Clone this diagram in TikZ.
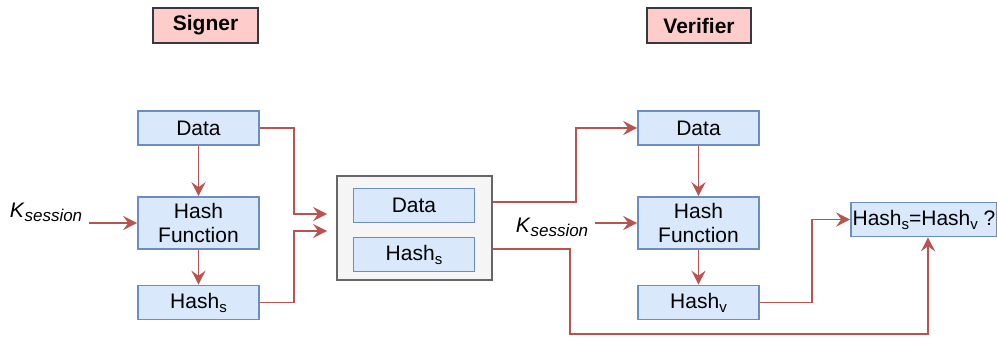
\documentclass[tikz,border=0pt]{standalone}
\usepackage{fontspec}
\setmainfont{Liberation Sans}
\usepackage{tikz}
\usetikzlibrary{arrows.meta}

\definecolor{boxfill}{HTML}{DAE8FC}
\definecolor{boxline}{HTML}{6C8EBF}
\definecolor{arrline}{HTML}{B85450}
\definecolor{tagfill}{HTML}{FFCCCC}
\definecolor{tagline}{HTML}{36393D}
\definecolor{packfill}{HTML}{F5F5F5}
\definecolor{packline}{HTML}{666666}

\newcommand{\ksess}{\textit{K}\raisebox{-2pt}{\fontsize{8.5}{10}\selectfont\itshape session}}
\newcommand{\lowsub}[1]{\raisebox{-2pt}{\fontsize{7.5}{8}\selectfont #1}}

\begin{document}
\begin{tikzpicture}[x=0.5pt,y=-0.5pt,font=\fontsize{10.5}{12}\selectfont,
    box/.style={draw=boxline,fill=boxfill,line width=0.8pt,minimum width=60.5pt,minimum height=17pt,inner sep=0pt,align=center},
    tag/.style={draw=tagline,fill=tagfill,line width=0.8pt,minimum height=17.5pt,inner sep=0pt,font=\fontsize{10.5}{12}\selectfont\bfseries},
    pack/.style={draw=packline,fill=packfill,line width=0.9pt,minimum width=77.5pt,minimum height=52pt,inner sep=0pt},
    arr/.style={draw=arrline,line width=0.8pt,-{Stealth[length=7pt,width=7pt,inset=2.5pt]}}]
      \useasboundingbox (0,0) rectangle (997,338);

      \node [tag,minimum width=52.5pt] (sig) at (205.5,25.5) {Signer};
      \node [tag,minimum width=52pt] (ver) at (699,25.5) {Verifier};

      \node [box] (d1) at (198.5,128) {Data};
      \node [box,minimum height=26pt] (h1) at (198.5,223) {Hash\\Function};
      \node [box] (s1) at (198.5,302.5) {Hash\lowsub{s}};
      \node (k1) at (46,212) {\ksess};

      \node [pack] (o) at (414.5,228) {};
      \node [box] (d2) at (414,205.5) {Data};
      \node [box] (s2) at (414,254.5) {Hash\lowsub{s}};

      \node [box] (d3) at (698.5,128) {Data};
      \node [box,minimum height=26pt] (h3) at (698.5,223) {Hash\\Function};
      \node [box] (s3) at (698.5,302.5) {Hash\lowsub{v}};
      \node (k3) at (552,227) {\ksess};

      \node [box,minimum width=73pt] (cmp) at (924,219.5) {Hash\lowsub{s}=Hash\lowsub{v} ?};

      \draw[arr] (d1) -- (h1);
      \draw[arr] (h1) -- (s1);
      \draw[arr] (k1.east |- h1.west) -- (h1.west);
      \draw[arr] (d1.east) -- ++(34,0) |- ([shift={(-9,-14)}]o.west);
      \draw[arr] (s1.east) -- ++(34,0) |- ([shift={(-9,3)}]o.west);

      \draw[arr] ([shift={(0,-26)}]o.east) -- ++(83,0) |- (d3.west);
      \draw[arr] ([shift={(0,21)}]o.east) -- ++(77,0) -- ++(0,85) -| ([xshift=2pt]cmp.south);
      \draw[arr] (k3.east |- h3.west) -- (h3.west);
      \draw[arr] (d3) -- (h3);
      \draw[arr] (h3) -- (s3);
      \draw[arr] (s3.east) -- ++(52,0) |- (cmp.west);
    \end{tikzpicture}
\end{document}
